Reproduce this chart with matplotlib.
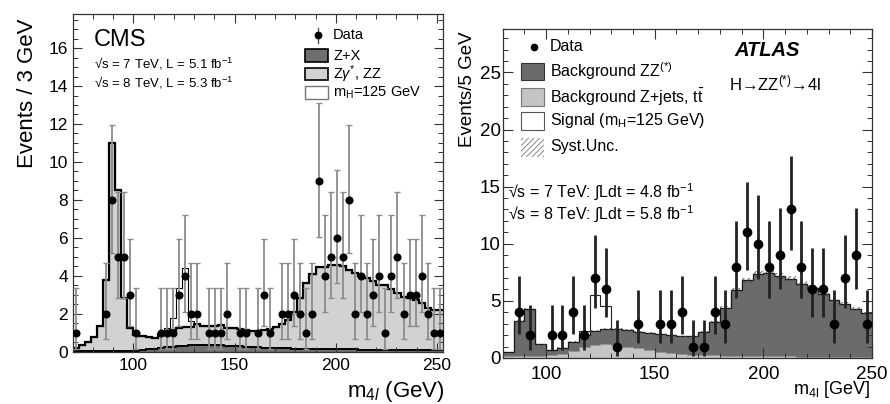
"""Side-by-side CMS and ATLAS four-lepton invariant mass spectra."""

import matplotlib

matplotlib.use("Agg")
import matplotlib.pyplot as plt
import numpy as np
from matplotlib.lines import Line2D
from matplotlib.patches import Rectangle
from matplotlib.ticker import MultipleLocator

FIG_W: int = 890
FIG_H: int = 404
DPI: int = 100

# CMS panel: 3 GeV bins between 70 and 253 GeV
cms_edges = np.arange(70, 254, 3)
cms_data = [1, 0, 0, 0, 0, 2, 8, 5, 5, 3, 1, 0, 0, 0, 1, 1, 1, 3, 4, 2,
            2, 0, 1, 1, 1, 2, 0, 1, 1, 0, 1, 3, 1, 0, 2, 2, 3, 2, 1, 2,
            9, 4, 5, 6, 5, 8, 2, 4, 2, 3, 4, 1, 4, 5, 2, 3, 3, 4, 2, 1, 1]
cms_zx = [0.03, 0.03, 0.03, 0.03, 0.03, 0.03, 0.03, 0.03, 0.03, 0.03,
          0.05, 0.08, 0.11, 0.15, 0.18, 0.22, 0.25, 0.28, 0.30, 0.32,
          0.33, 0.34, 0.34, 0.33, 0.32, 0.30, 0.28, 0.27, 0.25, 0.24,
          0.22, 0.20, 0.19, 0.18, 0.17, 0.16, 0.15, 0.14, 0.13, 0.13,
          0.13, 0.12, 0.12, 0.12, 0.11, 0.11, 0.11, 0.10, 0.10, 0.10,
          0.10, 0.10, 0.09, 0.09, 0.09, 0.09, 0.08, 0.08, 0.08, 0.08, 0.08]
cms_bkg_total = [0.20, 0.33, 0.50, 0.75, 1.33, 3.75, 11.0, 8.5, 2.8, 1.25,
                 0.85, 0.80, 0.78, 0.72, 0.93, 1.00, 1.14, 1.25, 1.28, 1.30,
                 1.47, 1.33, 1.33, 1.35, 1.42, 1.25, 1.22, 1.19, 1.16, 1.10,
                 1.10, 1.14, 1.18, 1.28, 1.45, 1.68, 2.10, 2.80, 3.60, 4.10,
                 4.45, 4.45, 4.57, 4.57, 4.50, 4.30, 4.14, 4.00, 3.87, 3.70,
                 3.50, 3.50, 3.30, 3.10, 2.90, 2.83, 2.70, 2.56, 2.30, 2.20, 2.20]
cms_signal = [0.0] * 15 + [0.25, 0.65, 2.1, 3.15, 0.3] + [0.0] * 41

# ATLAS panel: 5 GeV bins between 80 and 250 GeV
atlas_edges = np.arange(80, 251, 5)
atlas_data = [0, 4, 2, 0, 2, 2, 4, 2, 7, 6, 1, 0, 3, 0, 3, 3, 4, 1, 1, 4,
              3, 8, 11, 10, 8, 9, 13, 8, 6, 6, 3, 7, 9, 3]
atlas_zjets = [0.15, 0.20, 0.20, 0.20, 0.30, 0.35, 0.60, 0.95, 1.10, 1.20,
               1.15, 1.00, 0.85, 0.70, 0.55, 0.45, 0.35, 0.30, 0.25, 0.22,
               0.20, 0.20, 0.18, 0.17, 0.16, 0.15, 0.14, 0.13, 0.12, 0.12,
               0.11, 0.10, 0.10, 0.10]
atlas_bkg_total = [0.50, 3.25, 4.25, 1.20, 0.70, 0.90, 1.40, 2.05, 2.35, 2.50,
                   2.50, 2.45, 2.30, 2.20, 2.10, 2.00, 1.90, 1.90, 2.30, 3.15,
                   4.40, 5.95, 6.80, 7.35, 7.45, 7.15, 6.95, 6.50, 6.15, 5.60,
                   5.10, 4.70, 4.30, 3.90]
atlas_signal = [0.0] * 7 + [0.35, 3.2, 2.05] + [0.0] * 24

CMS_DARK = "#6f6f6f"
CMS_LIGHT = "#d2d2d2"
ATLAS_DARK = "#6b6b6b"
ATLAS_LIGHT = "#c4c4c4"


def fig_pos(x_px: float, y_px: float) -> tuple[float, float]:
    """Convert pixel coordinates (origin top-left) to figure fractions."""
    return x_px / FIG_W, 1.0 - y_px / FIG_H


def poisson_errors(counts: np.ndarray) -> tuple[np.ndarray, np.ndarray]:
    """Approximate asymmetric Poisson intervals (Gehrels)."""
    lower = np.sqrt(counts - 0.25)
    upper = np.sqrt(counts + 0.75) + 1.0
    return lower, upper


def legend_box(fig, x0, y0, x1, y1, **kwargs) -> None:
    """Draw a legend swatch given its pixel bounds."""
    left, bottom = fig_pos(x0, y1)
    rect = Rectangle(
        (left, bottom),
        (x1 - x0) / FIG_W,
        (y1 - y0) / FIG_H,
        transform=fig.transFigure,
        **kwargs,
    )
    fig.add_artist(rect)


def style_axis(axis, major_len, minor_len, label_size, pad_x, pad_y) -> None:
    axis.tick_params(which="both", direction="in", top=True, right=True,
                     colors="#333333", labelcolor="black")
    axis.tick_params(which="major", length=major_len, width=0.8)
    axis.tick_params(which="minor", length=minor_len, width=0.7)
    axis.tick_params(axis="x", labelsize=label_size, pad=pad_x)
    axis.tick_params(axis="y", labelsize=label_size, pad=pad_y)
    for spine in axis.spines.values():
        spine.set_linewidth(0.9)
        spine.set_color("#333333")


def plot_cms(fig) -> None:
    edges = cms_edges
    zx = np.array(cms_zx)
    bkg = np.array(cms_bkg_total)
    sig = np.array(cms_signal)
    counts = np.array(cms_data, dtype=float)

    left, bottom = fig_pos(72.7, 351.5)
    axis = fig.add_axes([left, bottom, (443 - 72.7) / FIG_W, (351.5 - 14) / FIG_H])

    axis.stairs(bkg + sig, edges, baseline=bkg, fill=True, color="white")
    axis.stairs(bkg, edges, baseline=zx, fill=True, color=CMS_LIGHT)
    axis.stairs(zx, edges, baseline=0, fill=True, color=CMS_DARK)
    axis.stairs(bkg + sig, edges, baseline=None, color="black", linewidth=0.8)
    axis.stairs(bkg, edges, baseline=None, color="black", linewidth=1.6)
    axis.stairs(zx, edges, baseline=None, color="black", linewidth=1.4)

    centers = 0.5 * (edges[:-1] + edges[1:])
    shown = counts > 0
    lower, upper = poisson_errors(counts[shown])
    axis.errorbar(
        centers[shown], counts[shown], yerr=[lower, upper], fmt="none",
        ecolor="#8c8c8c", elinewidth=1.3, capsize=2.2, capthick=1.0, zorder=4,
    )
    axis.plot(centers[shown], counts[shown], "o", color="black",
              markersize=4.8, zorder=5)

    axis.set_xlim(70, 253)
    axis.set_ylim(0, 17.8)
    axis.xaxis.set_major_locator(MultipleLocator(50))
    axis.xaxis.set_minor_locator(MultipleLocator(10))
    axis.yaxis.set_major_locator(MultipleLocator(2))
    axis.yaxis.set_minor_locator(MultipleLocator(0.5))
    style_axis(axis, 6.5, 3.3, 12.5, 4.5, 3.5)

    fig.text(*fig_pos(28, 18), "Events / 3 GeV", rotation=90,
             ha="center", va="top", fontsize=16)
    fig.text(*fig_pos(445, 391), r"m$_{\mathrm{4}\mathit{l}}$ (GeV)",
             ha="right", va="center", fontsize=16)

    fig.text(*fig_pos(94, 40), "CMS", ha="left", va="center", fontsize=17)
    fig.text(*fig_pos(94, 64), "√s = 7 TeV, L = 5.1 fb$^{-1}$",
             ha="left", va="center", fontsize=9.5)
    fig.text(*fig_pos(94, 82.5), "√s = 8 TeV, L = 5.3 fb$^{-1}$",
             ha="left", va="center", fontsize=9.5)

    # legend, drawn by hand to keep the ROOT-like spacing
    marker_x, marker_y = fig_pos(318.3, 35)
    _, err_top = fig_pos(318.3, 28)
    _, err_bottom = fig_pos(318.3, 43)
    fig.add_artist(Line2D([marker_x, marker_x], [err_bottom, err_top],
                          transform=fig.transFigure, color="#555555", lw=1.0))
    fig.add_artist(Line2D([marker_x], [marker_y], transform=fig.transFigure,
                          marker="o", color="black", markersize=4.6))
    legend_box(fig, 305, 49.5, 328, 61.5, facecolor=CMS_DARK,
               edgecolor="black", linewidth=1.2)
    legend_box(fig, 305, 68, 328, 80, facecolor=CMS_LIGHT,
               edgecolor="black", linewidth=1.2)
    legend_box(fig, 305, 86.5, 328, 98.5, facecolor="white",
               edgecolor="#777777", linewidth=1.0)
    entries = [
        (35, "Data"),
        (55.5, "Z+X"),
        (74, r"Z$\gamma^{*}$, ZZ"),
        (92.5, r"m$_{\mathrm{H}}$=125 GeV"),
    ]
    for y_px, label in entries:
        fig.text(*fig_pos(333, y_px), label, ha="left", va="center",
                 fontsize=10.5)


def plot_atlas(fig) -> None:
    edges = atlas_edges
    zjets = np.array(atlas_zjets)
    bkg = np.array(atlas_bkg_total)
    sig = np.array(atlas_signal)
    counts = np.array(atlas_data, dtype=float)

    left, bottom = fig_pos(502.7, 358)
    axis = fig.add_axes([left, bottom, (872 - 502.7) / FIG_W, (358 - 29) / FIG_H])

    axis.stairs(bkg + sig, edges, baseline=bkg, fill=True, color="white")
    axis.stairs(bkg + sig, edges, baseline=None, color="#222222", linewidth=0.8)
    axis.stairs(bkg, edges, baseline=zjets, fill=True, color=ATLAS_DARK)
    axis.stairs(zjets, edges, baseline=0, fill=True, color=ATLAS_LIGHT)
    axis.stairs(bkg, edges, baseline=None, color="#1a1a1a", linewidth=0.9)
    axis.stairs(zjets, edges, baseline=None, color="#8a8a8a", linewidth=0.6)

    band_lo = np.append(bkg * 0.97, bkg[-1] * 0.97)
    band_hi = np.append(bkg * 1.035, bkg[-1] * 1.035)
    axis.fill_between(edges, band_lo, band_hi, step="post", facecolor="none",
                      edgecolor="#4a4a4a", hatch="//////", linewidth=0, zorder=3)

    centers = 0.5 * (edges[:-1] + edges[1:])
    shown = counts > 0
    lower, upper = poisson_errors(counts[shown])
    axis.errorbar(
        centers[shown], counts[shown], yerr=[lower, upper], fmt="o",
        color="black", ecolor="#222222", elinewidth=2.0, capsize=0,
        markersize=6, zorder=5,
    )

    axis.set_xlim(80, 250)
    axis.set_ylim(0, 28.8)
    axis.xaxis.set_major_locator(MultipleLocator(50))
    axis.xaxis.set_minor_locator(MultipleLocator(10))
    axis.yaxis.set_major_locator(MultipleLocator(5))
    axis.yaxis.set_minor_locator(MultipleLocator(1))
    style_axis(axis, 7.2, 3.6, 13.5, 6, 1.5)

    fig.text(*fig_pos(468, 31), "Events/5 GeV", rotation=90,
             ha="center", va="top", fontsize=13.5)
    fig.text(*fig_pos(870, 390), r"m$_{\mathrm{4l}}$ [GeV]",
             ha="right", va="center", fontsize=13)

    fig.text(*fig_pos(767, 50), "ATLAS", ha="center", va="center",
             fontsize=14.5, fontweight="bold", fontstyle="italic")
    fig.text(*fig_pos(729, 83), "H→ZZ$^{(*)}$→4l", ha="left", va="center",
             fontsize=12)
    fig.text(*fig_pos(508, 191.5), "√s = 7 TeV: ∫Ldt = 4.8 fb$^{-1}$",
             ha="left", va="center", fontsize=11.5)
    fig.text(*fig_pos(508, 214), "√s = 8 TeV: ∫Ldt = 5.8 fb$^{-1}$",
             ha="left", va="center", fontsize=11.5)

    marker_x, marker_y = fig_pos(534.3, 46.7)
    fig.add_artist(Line2D([marker_x], [marker_y], transform=fig.transFigure,
                          marker="o", color="black", markersize=4.5))
    legend_box(fig, 521, 62.7, 544.3, 80, facecolor=ATLAS_DARK,
               edgecolor="#333333", linewidth=0.8)
    legend_box(fig, 521, 88.3, 544.3, 106, facecolor=ATLAS_LIGHT,
               edgecolor="#777777", linewidth=0.8)
    legend_box(fig, 521, 111.7, 544.3, 130, facecolor="white",
               edgecolor="#555555", linewidth=0.8)
    legend_box(fig, 521, 138.3, 544.3, 156.7, facecolor="none",
               edgecolor="#777777", hatch="//////", linewidth=0)
    entries = [
        (46.7, "Data"),
        (71.5, "Background ZZ$^{(*)}$"),
        (97, r"Background Z+jets, t$\bar{\mathrm{t}}$"),
        (121, r"Signal (m$_{\mathrm{H}}$=125 GeV)"),
        (147, "Syst.Unc."),
    ]
    for y_px, label in entries:
        fig.text(*fig_pos(550, y_px), label, ha="left", va="center",
                 fontsize=11.5)


def main() -> None:
    plt.rcParams["font.family"] = ["Liberation Sans", "DejaVu Sans"]
    plt.rcParams["mathtext.fontset"] = "custom"
    plt.rcParams["mathtext.rm"] = "Liberation Sans"
    plt.rcParams["mathtext.it"] = "Liberation Sans:italic"
    plt.rcParams["mathtext.bf"] = "Liberation Sans:bold"
    plt.rcParams["hatch.linewidth"] = 0.6

    fig = plt.figure(figsize=(FIG_W / DPI, FIG_H / DPI), dpi=DPI)
    plot_cms(fig)
    plot_atlas(fig)
    fig.savefig("out.png", dpi=DPI)
    plt.close(fig)


if __name__ == "__main__":
    main()
